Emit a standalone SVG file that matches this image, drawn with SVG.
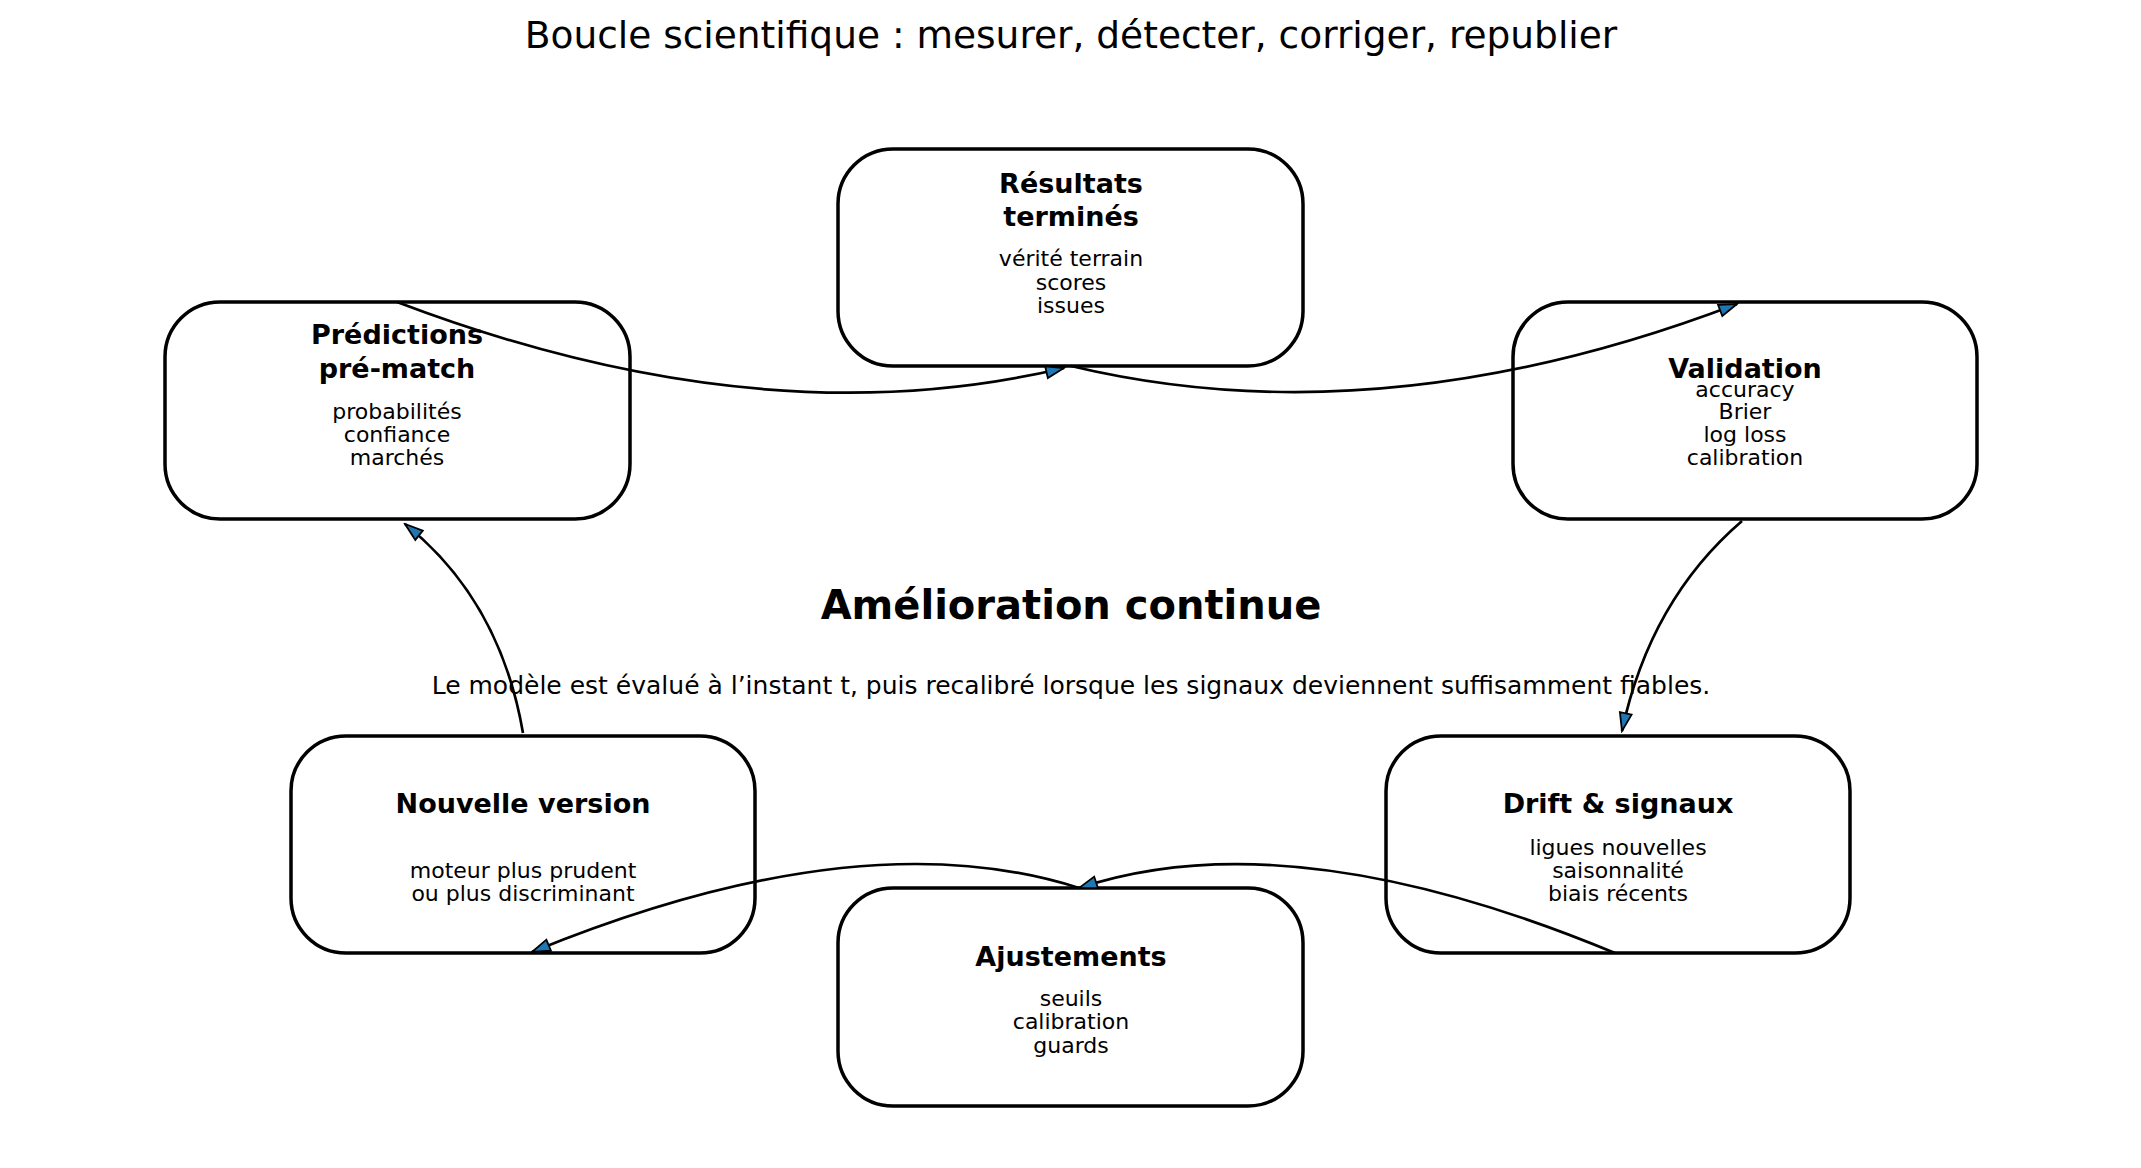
<svg xmlns="http://www.w3.org/2000/svg" width="2141" height="1168" viewBox="0 0 2141 1168">
<style>
text{font-family:"DejaVu Sans",sans-serif;text-anchor:middle;fill:#000}
.t{font-size:37.5px}
.h{font-size:27px;font-weight:bold}
.b{font-size:22px}
.c{font-size:40px;font-weight:bold}
.s{font-size:25px}
.box{fill:#fff;stroke:#000;stroke-width:3.5}
.e{fill:none;stroke:#000;stroke-width:2.7}
</style>
<defs>
<marker id="a" markerUnits="userSpaceOnUse" markerWidth="22" markerHeight="16" refX="20" refY="8" orient="auto">
<path d="M2,2 L20,8 L2,14 Z" fill="#1f77b4" stroke="#000" stroke-width="1.8"/>
</marker>
</defs>
<rect width="2141" height="1168" fill="#fff"/>
<text class="t" x="1071" y="48">Boucle scientifique : mesurer, détecter, corriger, republier</text>
<g id="resultats"><rect class="box" x="838" y="149" width="465" height="217" rx="55"/>
<text class="h" x="1071" y="193">Résultats</text><text class="h" x="1071" y="226">terminés</text>
<text class="b" x="1071" y="266">vérité terrain</text><text class="b" x="1071" y="290">scores</text><text class="b" x="1071" y="313">issues</text></g>
<g id="predictions"><rect class="box" x="165" y="302" width="465" height="217" rx="55"/>
<text class="h" x="397" y="344">Prédictions</text><text class="h" x="397" y="378">pré-match</text>
<text class="b" x="397" y="419">probabilités</text><text class="b" x="397" y="442">confiance</text><text class="b" x="397" y="465">marchés</text></g>
<g id="validation"><rect class="box" x="1513" y="302" width="464" height="217" rx="55"/>
<text class="h" x="1745" y="378">Validation</text>
<text class="b" x="1745" y="397">accuracy</text><text class="b" x="1745" y="419">Brier</text><text class="b" x="1745" y="442">log loss</text><text class="b" x="1745" y="465">calibration</text></g>
<g id="nouvelle"><rect class="box" x="291" y="736" width="464" height="217" rx="55"/>
<text class="h" x="523" y="813">Nouvelle version</text>
<text class="b" x="523" y="878">moteur plus prudent</text><text class="b" x="523" y="901">ou plus discriminant</text></g>
<g id="drift"><rect class="box" x="1386" y="736" width="464" height="217" rx="55"/>
<text class="h" x="1618" y="813">Drift &amp; signaux</text>
<text class="b" x="1618" y="855">ligues nouvelles</text><text class="b" x="1618" y="878">saisonnalité</text><text class="b" x="1618" y="901">biais récents</text></g>
<g id="ajustements"><rect class="box" x="838" y="888" width="465" height="218" rx="55"/>
<text class="h" x="1071" y="966">Ajustements</text>
<text class="b" x="1071" y="1006">seuils</text><text class="b" x="1071" y="1029">calibration</text><text class="b" x="1071" y="1053">guards</text></g>
<g id="centre"><text class="c" x="1071" y="619">Amélioration continue</text>
<text class="s" x="1071" y="694">Le modèle est évalué à l’instant t, puis recalibré lorsque les signaux deviennent suffisamment fiables.</text></g>
<g id="connectors">
<path class="e" marker-end="url(#a)" d="M397,302 Q760,440 1064,368"/>
<path class="e" marker-end="url(#a)" d="M1071,366 Q1380,440 1737,304"/>
<path class="e" marker-end="url(#a)" d="M1742,521 Q1650,600 1622,731"/>
<path class="e" marker-end="url(#a)" d="M1615,953 Q1290,818 1079,888"/>
<path class="e" marker-end="url(#a)" d="M1079,888 Q860,818 532,952"/>
<path class="e" marker-end="url(#a)" d="M523,733 Q500,600 405,524"/>
</g>
</svg>
